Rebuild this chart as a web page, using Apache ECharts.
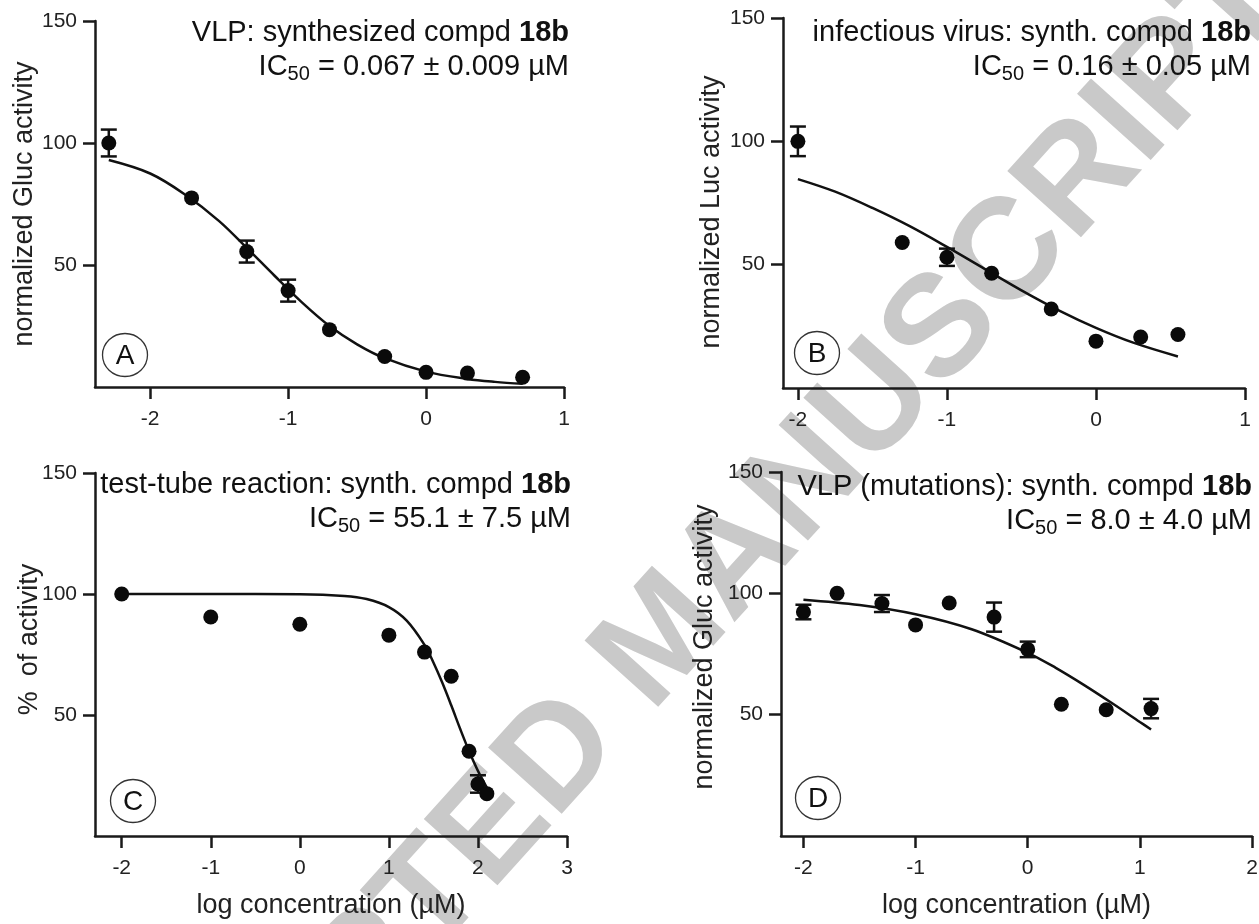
<!DOCTYPE html>
<html>
<head>
<meta charset="utf-8">
<title>compd 18b inhibition curves</title>
<script src="https://cdn.jsdelivr.net/npm/echarts@6/dist/echarts.min.js"></script>
<style>
    html, body { margin: 0; padding: 0; background: #fff; }
    #main { width: 1259px; height: 924px; }
</style>
</head>
<body>
<div id="main"></div>
<script>
// A: VLP, synthesized compd 18b
var xA = [-2.3, -1.7, -1.3, -1.0, -0.7, -0.3, 0.0, 0.3, 0.7];
var yA = [100, 77.5, 55.5, 39.5, 23.5, 12.5, 6.0, 5.7, 4.0];
var errA = [5.5, 0, 4.5, 4.5, 0, 0, 0, 0, 0];
var fitXA = [-2.3, -2.0, -1.75, -1.5, -1.3, -1.1, -0.9, -0.7, -0.5, -0.3, 0.0, 0.3, 0.5, 0.7];
var fitYA = [93, 87.5, 79, 68, 57, 45.7, 34.7, 25, 17.5, 11.8, 6.3, 3.3, 2.1, 1.3];

// B: infectious virus
var xB = [-2.0, -1.3, -1.0, -0.7, -0.3, 0.0, 0.3, 0.55];
var yB = [100, 59, 53, 46.5, 32, 19, 20.7, 21.7];
var errB = [6, 0, 3.5, 0, 0, 0, 0, 0];
var fitXB = [-2.0, -1.75, -1.5, -1.25, -1.0, -0.75, -0.5, -0.25, 0.0, 0.25, 0.55];
var fitYB = [84.7, 79.6, 73, 65.6, 57.2, 48.4, 39.6, 31.5, 24.4, 18.4, 12.8];

// C: test-tube reaction
var xC = [-2.0, -1.0, 0.0, 1.0, 1.4, 1.7, 1.9, 2.0, 2.1];
var yC = [100, 90.5, 87.5, 83, 76, 66, 35, 21.5, 17.5];
var errC = [0, 0, 0, 0, 0, 0, 0, 3.6, 0];
var fitXC = [-2.0, -1.0, 0.0, 0.5, 0.75, 1.0, 1.2, 1.4, 1.5, 1.6, 1.7, 1.8, 1.9, 2.0, 2.1];
var fitYC = [100, 100, 99.9, 99.2, 97.9, 94.6, 89, 79, 71.7, 63.3, 54, 44.3, 35.1, 26.9, 20];

// D: VLP (mutations)
var xD = [-2.0, -1.7, -1.3, -1.0, -0.7, -0.3, 0.0, 0.3, 0.7, 1.1];
var yD = [92.3, 100, 95.8, 87, 96, 90.2, 76.9, 54.3, 52, 52.5];
var errD = [3, 0, 3.5, 0, 0, 6, 3.2, 0, 0, 4];
var fitXD = [-2.0, -1.5, -1.0, -0.5, 0.0, 0.25, 0.5, 0.75, 1.0, 1.1];
var fitYD = [97.4, 95.2, 91.4, 85.2, 75.5, 69.3, 62.3, 54.8, 47, 43.9];

// axes
var xRangeA = [-2.4, 1];
var xRangeB = [-2.1, 1];
var xRangeC = [-2.3, 3];
var xRangeD = [-2.2, 2];
var xTicksA = [-2, -1, 0, 1];
var xTicksB = [-2, -1, 0, 1];
var xTicksC = [-2, -1, 0, 1, 2, 3];
var xTicksD = [-2, -1, 0, 1, 2];
var yTicks = [50, 100, 150];

// texts
var titleLines = ['VLP: synthesized compd ', 'infectious virus: synth. compd ', 'test-tube reaction: synth. compd ', 'VLP (mutations): synth. compd '];
var ic50Lines = [' = 0.067 ± 0.009 µM', ' = 0.16 ± 0.05 µM', ' = 55.1 ± 7.5 µM', ' = 8.0 ± 4.0 µM'];
var yNames = ['normalized Gluc activity', 'normalized Luc activity', '%  of activity', 'normalized Gluc activity'];
var xName = 'log concentration (µM)';
var letters = ['A', 'B', 'C', 'D'];
var watermark = 'ACCEPTED MANUSCRIPT';

var ff = '"Liberation Sans", Arial, Helvetica, sans-serif';
var ink = '#111';

function pairs(xs, ys) {
    var out = [];
    for (var i = 0; i < xs.length; i++) {
        out.push([xs[i], ys[i]]);
    }
    return out;
}

function triples(xs, ys, es) {
    var out = [];
    for (var i = 0; i < xs.length; i++) {
        if (es[i] > 0) {
            out.push([xs[i], ys[i], es[i]]);
        }
    }
    return out;
}

function errorBar(params, api) {
    var x = api.value(0);
    var y = api.value(1);
    var e = api.value(2);
    var hi = api.coord([x, y + e]);
    var lo = api.coord([x, y - e]);
    var hw = 8;
    var st = {stroke: ink, lineWidth: 2.5};
    return {
        type: 'group',
        children: [
            {type: 'line', shape: {x1: hi[0], y1: hi[1], x2: lo[0], y2: lo[1]}, style: st},
            {type: 'line', shape: {x1: hi[0] - hw, y1: hi[1], x2: hi[0] + hw, y2: hi[1]}, style: st},
            {type: 'line', shape: {x1: lo[0] - hw, y1: lo[1], x2: lo[0] + hw, y2: lo[1]}, style: st}
        ]
    };
}

var panels = [
    {x: xA, y: yA, e: errA, fx: fitXA, fy: fitYA, range: xRangeA, ticks: xTicksA},
    {x: xB, y: yB, e: errB, fx: fitXB, fy: fitYB, range: xRangeB, ticks: xTicksB},
    {x: xC, y: yC, e: errC, fx: fitXC, fy: fitYC, range: xRangeC, ticks: xTicksC},
    {x: xD, y: yD, e: errD, fx: fitXD, fy: fitYD, range: xRangeD, ticks: xTicksD}
];

// layout in px
var gridBox = [
    {left: 95, top: 21, width: 469, height: 366},
    {left: 783, top: 18, width: 462, height: 370},
    {left: 95, top: 473, width: 472, height: 363},
    {left: 781, top: 472, width: 471, height: 364}
];
var yNameGap = [57, 58, 52, 63];
var yNamePad = [[0, 0, 0, 0], [0, 18, 0, 0], [0, 0, 0, 30], [0, 0, 0, 14]];
var titleX = [569, 1251, 571, 1252];
var titleY = [16, 16, 468, 470];
var circlePos = [[125, 355], [817, 353], [133, 801], [818, 798]];

var axisLineStyle = {color: '#1a1a1a', width: 2.5};
var titleRich = {
    n: {fontSize: 29, lineHeight: 34, fill: ink, fontFamily: ff, fontWeight: 'normal'},
    b: {fontSize: 29, lineHeight: 34, fill: ink, fontFamily: ff, fontWeight: 'bold'},
    s: {fontSize: 20, lineHeight: 20, fill: ink, fontFamily: ff, fontWeight: 'normal', verticalAlign: 'bottom'}
};

var grids = [], xAxes = [], yAxes = [], series = [], graphics = [];

for (var i = 0; i < panels.length; i++) {
    var p = panels[i];
    grids.push({
        left: gridBox[i].left, top: gridBox[i].top,
        width: gridBox[i].width, height: gridBox[i].height,
        containLabel: false, outerBoundsMode: 'none'
    });
    xAxes.push({
        type: 'value', gridIndex: i, min: p.range[0], max: p.range[1],
        axisLine: {show: true, onZero: false, lineStyle: axisLineStyle},
        axisTick: {show: true, length: 12, customValues: p.ticks, lineStyle: axisLineStyle},
        axisLabel: {customValues: p.ticks, margin: 22, fontSize: 21, color: '#222', fontFamily: ff},
        splitLine: {show: false},
        name: i >= 2 ? xName : '',
        nameLocation: 'middle', nameGap: 56, nameMoveOverlap: false,
        nameTextStyle: {fontSize: 27, color: '#222', fontFamily: ff}
    });
    yAxes.push({
        type: 'value', gridIndex: i, min: 0, max: 150,
        axisLine: {show: true, onZero: false, lineStyle: axisLineStyle},
        axisTick: {show: true, length: 12, customValues: yTicks, lineStyle: axisLineStyle},
        axisLabel: {customValues: yTicks, margin: 18, fontSize: 21, color: '#222', fontFamily: ff},
        splitLine: {show: false},
        name: yNames[i], nameLocation: 'middle', nameGap: yNameGap[i], nameMoveOverlap: false,
        nameTextStyle: {fontSize: 27, color: '#222', fontFamily: ff, padding: yNamePad[i]}
    });
    series.push({
        type: 'line', xAxisIndex: i, yAxisIndex: i,
        data: pairs(p.fx, p.fy), smooth: 0.35, showSymbol: false, silent: true,
        lineStyle: {color: ink, width: 2.5}, z: 3
    });
    series.push({
        type: 'custom', xAxisIndex: i, yAxisIndex: i,
        data: triples(p.x, p.y, p.e), renderItem: errorBar,
        encode: {x: 0, y: 1}, silent: true, z: 4
    });
    series.push({
        type: 'scatter', xAxisIndex: i, yAxisIndex: i,
        data: pairs(p.x, p.y), symbol: 'circle', symbolSize: 15,
        itemStyle: {color: '#0a0a0a', opacity: 1}, z: 5
    });
    graphics.push({
        type: 'text', z: 8, x: titleX[i], y: titleY[i],
        style: {
            text: '{n|' + titleLines[i] + '}{b|18b}\n{n|IC}{s|50}{n|' + ic50Lines[i] + '}',
            rich: titleRich, align: 'right', verticalAlign: 'top', fill: ink
        }
    });
    graphics.push({
        type: 'ellipse', z: 6,
        shape: {cx: circlePos[i][0], cy: circlePos[i][1], rx: 22.5, ry: 21.5},
        style: {fill: '#fff', stroke: '#333', lineWidth: 1.3}
    });
    graphics.push({
        type: 'text', z: 7, x: circlePos[i][0], y: circlePos[i][1] + 1,
        style: {text: letters[i], font: '28px ' + ff, fill: ink, align: 'center', verticalAlign: 'middle'}
    });
}

graphics.push({
    type: 'text', z: -10, x: 665, y: 640, rotation: 48 * Math.PI / 180,
    style: {text: watermark, font: 'bold 144px ' + ff, fill: '#c9c9c9', align: 'center', verticalAlign: 'middle'}
});

var chart = echarts.init(document.getElementById('main'), null, {renderer: 'canvas'});
chart.setOption({
    backgroundColor: '#fff',
    animation: false,
    grid: grids,
    xAxis: xAxes,
    yAxis: yAxes,
    series: series,
    graphic: {elements: graphics}
});
</script>
</body>
</html>
